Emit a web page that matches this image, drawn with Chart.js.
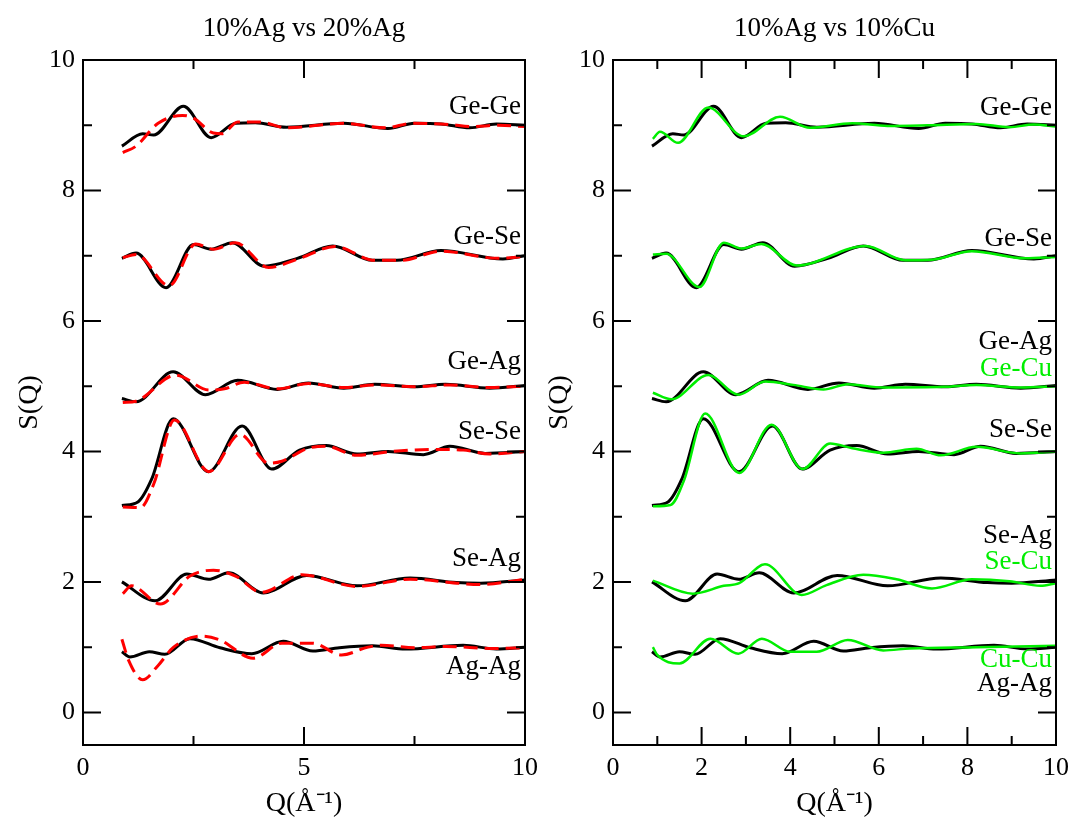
<!DOCTYPE html>
<html>
<head>
<meta charset="utf-8">
<title>S(Q) comparison</title>
<script src="https://cdn.jsdelivr.net/npm/chart.js@4.4.1/dist/chart.umd.min.js"></script>
<style>
  html, body { margin: 0; padding: 0; background: #fff; }
  #wrap { position: relative; width: 1073px; height: 820px; overflow: hidden; }
  canvas { position: absolute; top: 0; }
  #chartLeft { left: 0; }
  #chartRight { left: 530px; }
</style>
</head>
<body>
<div id="wrap">
  <canvas id="chartLeft" width="540" height="820"></canvas>
  <canvas id="chartRight" width="543" height="820"></canvas>
</div>
<script>
// partial structure factors, [Q, S(Q)] (curves shifted by constants)
// 10% Ag
const ag10GeGe = [[0.88,8.68],[1.35,8.87],[1.6,8.85],[2.27,9.29],[2.9,8.81],[3.45,9.03],[3.9,9.04],[4.6,8.97],[5.9,9.03],[6.9,8.95],[7.5,9.03],[8.1,9.02],[8.75,8.96],[9.35,9.02],[10,9.0]];
const ag10GeSe = [[0.88,6.96],[1.2,7.04],[1.88,6.51],[2.5,7.17],[2.9,7.1],[3.38,7.2],[4.1,6.84],[4.85,6.96],[5.65,7.15],[6.55,6.93],[7.1,6.93],[8.1,7.08],[9.5,6.95],[10,7.0]];
const ag10GeAg = [[0.88,4.81],[1.2,4.76],[2.04,5.22],[2.77,4.87],[3.5,5.09],[4.4,4.95],[5.1,5.05],[5.9,4.97],[6.6,5.03],[7.5,4.99],[8.2,5.03],[9.2,4.97],[10,5.01]];
const ag10SeSe = [[0.88,3.17],[1.25,3.23],[1.55,3.57],[2.04,4.5],[2.84,3.69],[3.6,4.39],[4.27,3.73],[4.9,4.02],[5.5,4.09],[6.2,3.96],[6.9,4.0],[7.7,3.95],[8.3,4.08],[9.1,3.97],[10,4.0]];
const ag10SeAg = [[0.88,2.0],[1.63,1.71],[2.35,2.12],[2.84,2.04],[3.3,2.14],[4.08,1.83],[5.06,2.1],[6.2,1.94],[7.4,2.06],[8.45,1.99],[9.0,1.98],[10,2.03]];
const ag10AgAg = [[0.88,0.93],[1.06,0.85],[1.5,0.93],[1.85,0.89],[2.42,1.13],[3.1,0.99],[3.82,0.9],[4.53,1.09],[5.2,0.94],[5.8,0.99],[6.55,1.02],[7.3,0.97],[8.6,1.03],[9.35,0.97],[10,1.0]];

// 20% Ag
const ag20GeGe = [[0.9,8.58],[1.2,8.68],[1.7,9.03],[2.25,9.15],[2.5,9.11],[2.95,8.88],[3.15,8.87],[3.5,9.05],[4.0,9.05],[4.6,8.96],[5.9,9.03],[6.85,8.96],[7.45,9.03],[8.3,9.01],[8.8,8.98],[9.4,9.0],[10,8.98]];
const ag20GeSe = [[0.9,6.97],[1.2,7.02],[1.95,6.54],[2.55,7.18],[2.95,7.1],[3.45,7.2],[4.2,6.82],[4.9,6.96],[5.7,7.14],[6.6,6.93],[7.2,6.93],[8.1,7.07],[9.4,6.96],[10,6.99]];
const ag20GeAg = [[0.9,4.75],[1.2,4.77],[2.1,5.17],[2.85,4.94],[3.2,4.96],[3.65,5.06],[4.4,4.96],[5.1,5.04],[5.9,4.98],[6.6,5.02],[7.5,4.99],[8.3,5.02],[9.2,4.98],[10,5.0]];
const ag20SeSe = [[0.9,3.15],[1.3,3.14],[1.6,3.5],[2.07,4.48],[2.85,3.69],[3.55,4.26],[4.2,3.82],[4.5,3.85],[5.1,4.05],[5.5,4.08],[6.2,3.94],[7.0,4.0],[7.9,4.03],[8.6,4.02],[9.2,3.96],[10,4.0]];
const ag20SeAg = [[0.9,1.82],[1.1,1.94],[1.75,1.66],[2.42,2.09],[2.95,2.18],[3.45,2.09],[4.04,1.84],[4.95,2.11],[6.2,1.93],[7.4,2.04],[9.0,1.96],[10,2.04]];
const ag20AgAg = [[0.88,1.12],[1.03,0.8],[1.35,0.5],[1.7,0.72],[2.05,1.0],[2.7,1.17],[3.1,1.11],[3.85,0.83],[4.5,1.06],[5.2,1.06],[5.85,0.88],[6.45,1.0],[6.75,1.03],[7.5,0.99],[8.2,1.01],[9.3,0.98],[10,0.99]];

// 10% Cu
const cu10GeGe = [[0.9,8.79],[1.06,8.9],[1.47,8.73],[2.15,9.27],[2.95,8.83],[3.77,9.13],[4.45,8.96],[5.4,9.03],[6.2,8.99],[7.1,9.0],[8.2,9.02],[8.95,8.97],[9.5,9.01],[10,8.98]];
const cu10GeSe = [[0.9,7.02],[1.2,7.03],[1.95,6.52],[2.5,7.2],[2.9,7.11],[3.35,7.18],[4.15,6.85],[5.7,7.15],[6.6,6.93],[7.2,6.94],[8.1,7.07],[9.3,6.96],[10,6.98]];
const cu10GeCu = [[0.9,4.9],[1.32,4.8],[2.15,5.17],[2.83,4.87],[3.43,5.07],[4.07,5.02],[4.75,4.95],[5.3,5.03],[6.1,4.98],[7.46,4.99],[8.2,5.02],[9.2,4.98],[10,5.0]];
const cu10SeSe = [[0.9,3.16],[1.3,3.18],[1.6,3.55],[2.08,4.58],[2.85,3.67],[3.58,4.41],[4.28,3.73],[4.9,4.12],[5.4,4.05],[6.1,3.98],[6.85,4.04],[7.4,3.94],[8.2,4.07],[9.2,3.97],[10,4.0]];
const cu10SeCu = [[0.9,2.02],[1.8,1.82],[2.5,1.94],[2.85,1.98],[3.43,2.27],[4.26,1.8],[4.82,1.95],[5.65,2.11],[6.4,2.04],[7.2,1.9],[8.1,2.04],[8.95,2.01],[9.65,1.94],[10,1.98]];
const cu10CuCu = [[0.9,1.0],[1.0,0.88],[1.5,0.75],[2.2,1.13],[2.83,0.9],[3.36,1.13],[4.0,0.93],[4.6,0.93],[5.3,1.11],[6.1,0.95],[6.7,0.98],[8.2,1.0],[10,1.02]];

// axis ticks
const yMajor = [0, 2, 4, 6, 8, 10];
const yMinor = [1, 3, 5, 7, 9];
const xMajorLeft = [0, 5, 10];
const xMinorLeft = [2.5, 7.5];
const xMajorRight = [0, 2, 4, 6, 8, 10];
const xMinorRight = [1, 3, 5, 7, 9];

const FONT = '"Liberation Serif", "Times New Roman", serif';
const BLACK = '#000000';
const RED = '#ff0000';
const GREEN = '#00ee00';

function toXY(arr) {
    return arr.map(p => ({ x: p[0], y: p[1] }));
}

function blackLine(arr) {
    return { data: toXY(arr), borderColor: BLACK, borderWidth: 3, order: 1 };
}

// draws the box, the inward ticks on all four sides, the panel title and the curve names
const frameAndLabels = {
    id: 'frameAndLabels',
    afterDatasetsDraw(chart, args, opts) {
        const ctx = chart.ctx;
        const a = chart.chartArea;
        const x = chart.scales.x;
        const y = chart.scales.y;
        ctx.save();
        ctx.strokeStyle = '#000';
        ctx.lineWidth = 2;
        ctx.beginPath();
        const vTick = (v, len) => {
            const px = x.getPixelForValue(v);
            ctx.moveTo(px, a.bottom); ctx.lineTo(px, a.bottom - len);
            ctx.moveTo(px, a.top); ctx.lineTo(px, a.top + len);
        };
        const hTick = (v, len) => {
            const py = y.getPixelForValue(v);
            ctx.moveTo(a.left, py); ctx.lineTo(a.left + len, py);
            ctx.moveTo(a.right, py); ctx.lineTo(a.right - len, py);
        };
        opts.xMajor.forEach(v => vTick(v, 18));
        opts.xMinor.forEach(v => vTick(v, 9));
        yMajor.forEach(v => hTick(v, 18));
        yMinor.forEach(v => hTick(v, 9));
        ctx.stroke();
        ctx.strokeRect(a.left, a.top, a.right - a.left, a.bottom - a.top);

        // panel title, centred over the plot box
        ctx.fillStyle = '#000';
        ctx.font = '27px ' + FONT;
        ctx.textAlign = 'center';
        ctx.textBaseline = 'middle';
        ctx.fillText(opts.title, (a.left + a.right) / 2, a.top - 31);

        ctx.font = '27px ' + FONT;
        ctx.textAlign = 'right';
        opts.labels.forEach(l => {
            ctx.fillStyle = l.color;
            ctx.fillText(l.text, a.right - 4, y.getPixelForValue(l.at));
        });
        ctx.restore();
    }
};

function makeChart(canvasId, title, datasets, xMajor, xMinor, rightPad, labels) {
    return new Chart(document.getElementById(canvasId), {
        type: 'line',
        data: { datasets: datasets },
        options: {
            responsive: false,
            animation: false,
            events: [],
            layout: { padding: { left: 0, right: rightPad, top: 60, bottom: 0 } },
            elements: {
                point: { radius: 0 },
                line: { cubicInterpolationMode: 'monotone', fill: false }
            },
            plugins: {
                legend: { display: false },
                tooltip: { enabled: false },
                title: { display: false },
                frameAndLabels: { title: title, xMajor: xMajor, xMinor: xMinor, labels: labels }
            },
            scales: {
                x: {
                    type: 'linear',
                    min: 0,
                    max: 10,
                    afterBuildTicks: s => { s.ticks = xMajor.map(v => ({ value: v })); },
                    afterFit: s => { s.height = 75; s.paddingLeft = 0; s.paddingRight = 0; },
                    grid: { display: false, drawTicks: false },
                    border: { display: false },
                    ticks: { color: '#000', padding: 8, maxRotation: 0, font: { family: FONT, size: 26 } },
                    title: {
                        display: true,
                        text: 'Q(Å⁻¹)',
                        color: '#000',
                        padding: 0,
                        font: { family: FONT, size: 28, lineHeight: 1.2 }
                    }
                },
                y: {
                    type: 'linear',
                    min: -0.5,
                    max: 10,
                    afterBuildTicks: s => { s.ticks = yMajor.map(v => ({ value: v })); },
                    afterFit: s => { s.width = 83; s.paddingTop = 0; s.paddingBottom = 0; },
                    grid: { display: false, drawTicks: false },
                    border: { display: false },
                    ticks: { color: '#000', padding: 8, font: { family: FONT, size: 26 } },
                    title: {
                        display: true,
                        text: 'S(Q)',
                        color: '#000',
                        padding: { top: 13, bottom: 0 },
                        font: { family: FONT, size: 28, lineHeight: 1.2 }
                    }
                }
            }
        },
        plugins: [frameAndLabels]
    });
}

const leftSets = [ag10GeGe, ag10GeSe, ag10GeAg, ag10SeSe, ag10SeAg, ag10AgAg].map(blackLine)
    .concat([ag20GeGe, ag20GeSe, ag20GeAg, ag20SeSe, ag20SeAg, ag20AgAg].map(arr => ({
        data: toXY(arr), borderColor: RED, borderWidth: 3, borderDash: [14, 7], order: 0
    })));

const rightSets = [ag10GeGe, ag10GeSe, ag10GeAg, ag10SeSe, ag10SeAg, ag10AgAg].map(blackLine)
    .concat([cu10GeGe, cu10GeSe, cu10GeCu, cu10SeSe, cu10SeCu, cu10CuCu].map(arr => ({
        data: toXY(arr), borderColor: GREEN, borderWidth: 2.5, order: 0
    })));

makeChart('chartLeft', '10%Ag vs 20%Ag', leftSets, xMajorLeft, xMinorLeft, 15, [
    { text: 'Ge-Ge', at: 9.28, color: BLACK },
    { text: 'Ge-Se', at: 7.29, color: BLACK },
    { text: 'Ge-Ag', at: 5.37, color: BLACK },
    { text: 'Se-Se', at: 4.30, color: BLACK },
    { text: 'Se-Ag', at: 2.36, color: BLACK },
    { text: 'Ag-Ag', at: 0.69, color: BLACK }
]);

makeChart('chartRight', '10%Ag vs 10%Cu', rightSets, xMajorRight, xMinorRight, 17, [
    { text: 'Ge-Ge', at: 9.27, color: BLACK },
    { text: 'Ge-Se', at: 7.25, color: BLACK },
    { text: 'Ge-Ag', at: 5.68, color: BLACK },
    { text: 'Ge-Cu', at: 5.27, color: GREEN },
    { text: 'Se-Se', at: 4.33, color: BLACK },
    { text: 'Se-Ag', at: 2.71, color: BLACK },
    { text: 'Se-Cu', at: 2.31, color: GREEN },
    { text: 'Cu-Cu', at: 0.80, color: GREEN },
    { text: 'Ag-Ag', at: 0.44, color: BLACK }
]);
</script>
</body>
</html>
